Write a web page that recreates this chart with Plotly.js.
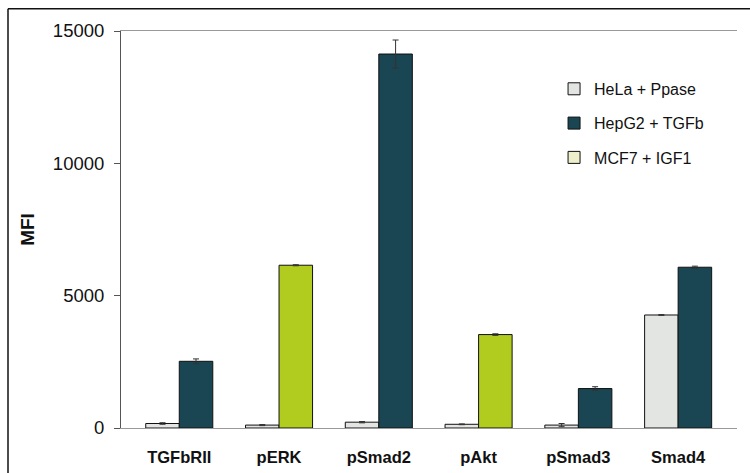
<!DOCTYPE html>
<html>
<head>
<meta charset="utf-8">
<script src="https://cdn.plot.ly/plotly-3.0.1.min.js"></script>
<style>
html,body{margin:0;padding:0;background:#fff;}
#chart{width:750px;height:473px;}
</style>
</head>
<body>
<div id="chart"></div>
<script>
var categories = ['TGFbRII', 'pERK', 'pSmad2', 'pAkt', 'pSmad3', 'Smad4'];

var helaName = 'HeLa + Ppase';
var helaValues = [170, 110, 220, 140, 110, 4270];
var helaErrors = [30, 20, 25, 15, 60, 15];

var hepName = 'HepG2 + TGFb';
var hepValues = [2520, null, 14130, null, 1490, 6075];
var hepErrors = [90, 0, 530, 0, 70, 40];

var mcfName = 'MCF7 + IGF1';
var mcfValues = [null, 6150, null, 3530, null, null];
var mcfErrors = [0, 20, 0, 30, 0, 0];

var yTicks = [0, 5000, 10000, 15000];

var barW = 0.336;
var font = 'Liberation Sans, Arial, sans-serif';
var errStyle = {type: 'data', visible: true, color: '#333', thickness: 1, width: 3};

var traces = [
  {
    type: 'bar', name: helaName, legendgroup: 'a', x: categories, y: helaValues,
    width: barW, offset: -barW,
    marker: {color: '#e3e5e3', line: {color: '#111', width: 1}},
    error_y: Object.assign({array: helaErrors}, errStyle)
  },
  {
    type: 'bar', name: hepName, legendgroup: 'b', x: categories, y: hepValues,
    width: barW, offset: 0,
    marker: {color: '#1a4552', line: {color: '#111', width: 1}},
    error_y: Object.assign({array: hepErrors}, errStyle)
  },
  {
    type: 'bar', name: mcfName, legendgroup: 'c', x: categories, y: mcfValues,
    width: barW, offset: 0,
    marker: {color: ['#eef0cc', '#b2cb1f', '#eef0cc', '#b2cb1f', '#eef0cc', '#eef0cc'], line: {color: '#111', width: 1}},
    error_y: Object.assign({array: mcfErrors}, errStyle)
  }
];

var layout = {
  width: 750, height: 473,
  margin: {l: 121, r: 13, t: 31, b: 45},
  paper_bgcolor: '#fff', plot_bgcolor: '#fff',
  barmode: 'overlay',
  showlegend: true,
  legend: {
    x: 0.703, y: 0.897, xanchor: 'left', yanchor: 'top',
    font: {family: font, size: 16, color: '#111'},
    tracegroupgap: 10.5, bgcolor: 'rgba(0,0,0,0)'
  },
  xaxis: {
    type: 'category', range: [-0.584, 5.59],
    showgrid: false, zeroline: false,
    showline: true, linecolor: '#999', linewidth: 1, mirror: true,
    ticks: '', ticklabelstandoff: 14,
    tickfont: {family: font, size: 16.5, color: '#111', weight: 'bold'}
  },
  yaxis: {
    range: [0, 15000], tickvals: yTicks, ticktext: yTicks.map(String),
    showgrid: false, zeroline: false,
    showline: true, linecolor: '#555', linewidth: 1,
    ticks: 'outside', ticklen: 6, tickcolor: '#555',
    tickfont: {family: font, size: 18.5, color: '#111'},
    ticklabelstandoff: 6,
    title: {text: 'MFI', font: {family: font, size: 19, color: '#111', weight: 'bold'}, standoff: 13}
  },
  shapes: [
    {type: 'line', xref: 'paper', yref: 'paper', x0: -113/616, x1: 1.03, y0: (427.7-8.5)/397, y1: (427.7-8.5)/397, line: {color: '#111', width: 1.5}},
    {type: 'line', xref: 'paper', yref: 'paper', x0: -113/616, x1: -113/616, y0: (427.7-8.5)/397, y1: -0.2, line: {color: '#111', width: 1.5}}
  ]
};

Plotly.newPlot('chart', traces, layout, {displayModeBar: false, staticPlot: true});
</script>
</body>
</html>
